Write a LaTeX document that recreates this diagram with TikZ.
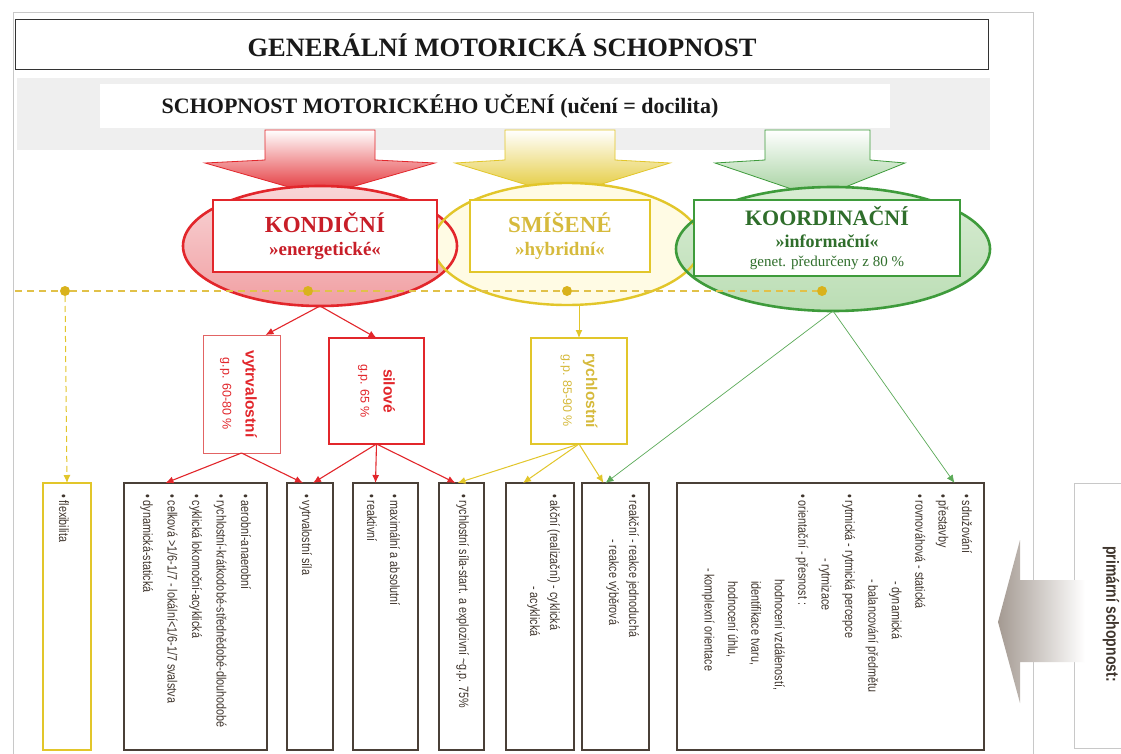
\documentclass[tikz,border=0pt]{standalone}
\usepackage{fontspec}
\usepackage{graphicx}
\setmainfont{Liberation Serif}
\newfontfamily\narrowsans[FakeStretch=0.8]{Liberation Sans}
\newfontfamily\plainsans{Liberation Sans}
\usetikzlibrary{shapes.geometric,arrows.meta}

\definecolor{kred}{HTML}{E2262B}
\definecolor{kdred}{HTML}{C81E28}
\definecolor{kredfill}{HTML}{F3B4B7}
\definecolor{kpink}{HTML}{E26464}
\definecolor{kyel}{HTML}{E2C62A}
\definecolor{kyeltext}{HTML}{D6BA3C}
\definecolor{kyelfill}{HTML}{FFFBE4}
\definecolor{kgrn}{HTML}{3E9B3B}
\definecolor{kdgrn}{HTML}{2F6E2B}
\definecolor{kgrnfill}{HTML}{C9E5C2}
\definecolor{kgold}{HTML}{D9B21C}
\definecolor{kbrown}{HTML}{4A4038}
\definecolor{ktext}{HTML}{40362E}
\definecolor{kband}{HTML}{EFEFEF}
\definecolor{kframe}{HTML}{C8C8C8}
\definecolor{kstone}{HTML}{A49A92}

\begin{document}
\begin{tikzpicture}[x=1pt,y=-1pt,
  every node/.style={inner sep=0pt, outer sep=0pt},
  redline/.style={draw=kred, line width=1.1pt, -{Latex[length=8pt,width=7pt]}},
  yelline/.style={draw=kyel, line width=1pt, -{Latex[length=8pt,width=7pt]}},
  grnline/.style={draw=kgrn!85, line width=0.7pt, -{Latex[length=8pt,width=7pt]}},
  lowbox/.style={draw=kbrown, line width=1.5pt, minimum height=267pt, fill=white},
  lowtext/.style={rotate=-90, anchor=north west, align=left, text=ktext,
    font=\narrowsans\fontsize{13.5}{#1}\selectfont},
  lowtext/.default=23,
  midtext/.style={rotate=-90, align=center, font=\plainsans\fontsize{12.5}{23}\selectfont},
  dot/.style={circle, fill=kgold, minimum size=10pt},
  oval/.style={ellipse, minimum height=120pt},
  bigarrow/.style={line width=0.8pt},
  groupbox/.style={line width=1.5pt, fill=white, align=center, font=\fontsize{16}{23}\selectfont},
]
\useasboundingbox (0,0) rectangle (1121,754);
\fill[white] (0,0) rectangle (1121,754);

% outer frame
\draw[kframe, line width=0.8pt] (13,12) rectangle (1033,770);

% headline
\node[draw=black!80, line width=1pt, minimum width=973pt, minimum height=50pt,
  text=black!90, font=\bfseries\fontsize{26.5}{28}\selectfont] (gen) at (502,45)
  {GENERÁLNÍ MOTORICKÁ SCHOPNOST};

% grey band with the learning ability
\fill[kband] (17,78) rectangle (990,150);
\fill[white] (100,84) rectangle (890,128);
\node[text=black!90, font=\bfseries\fontsize{22}{24}\selectfont] (learn) at (440,106)
  {SCHOPNOST MOTORICKÉHO UČENÍ (učení = docilita)};

% three broad arrows
\shade[top color=white, bottom color=kred, draw=kred, bigarrow]
  (265,130) -- (375,130) -- (375,160) -- (435,163) -- (320,196) -- (205,163) -- (265,160) -- cycle;
\shade[top color=white, bottom color=kyel, draw=kyel, bigarrow]
  (505,130) -- (615,130) -- (615,160) -- (670,163) -- (563,196) -- (455,163) -- (505,160) -- cycle;
\shade[top color=white, bottom color=kgrnfill!70!kgrn, draw=kgrn, bigarrow]
  (765,130) -- (870,130) -- (870,160) -- (905,163) -- (818,198) -- (715,163) -- (765,160) -- cycle;

% ovals: fills first, outlines on top
\node[oval, top color=kredfill!55!white, bottom color=kredfill!85!kred, minimum width=274pt] (kond) at (320,246) {};
\node[oval, fill=kyelfill, minimum width=268pt, minimum height=122pt] (smis) at (567,244) {};
\node[oval, top color=kgrnfill!70!white, bottom color=kgrnfill!90!kgrn, minimum width=314pt, minimum height=124pt] (koor) at (833,249) {};
\node[oval, draw=kred, line width=2.6pt, minimum width=274pt] at (kond) {};
\node[oval, draw=kyel, line width=2.4pt, minimum width=268pt, minimum height=122pt] at (smis) {};
\node[oval, draw=kgrn, line width=2.6pt, minimum width=314pt, minimum height=124pt] at (koor) {};

% labels of the three groups
\node[groupbox, draw=kred, minimum width=224pt, minimum height=72pt, text=kdred] (kondbox) at (325,236)
  {{\bfseries\fontsize{23}{23}\selectfont KONDIČNÍ}\\
   {\bfseries\fontsize{19}{23}\selectfont »energetické«}};
\node[groupbox, draw=kyel, minimum width=180pt, minimum height=72pt, text=kyeltext] (smisbox) at (560,236)
  {{\bfseries\fontsize{23}{23}\selectfont SMÍŠENÉ}\\
   {\bfseries\fontsize{19}{23}\selectfont »hybridní«}};
\node[groupbox, draw=kgrn, minimum width=266pt, minimum height=76pt, text=kdgrn,
  font=\fontsize{15}{19}\selectfont] (koorbox) at (827,238)
  {{\bfseries\fontsize{22}{22}\selectfont KOORDINAČNÍ}\\[3pt]
   {\bfseries\fontsize{18}{19}\selectfont »informační«}\\
   {\fontsize{15}{19}\selectfont genet. předurčeny z 80 \%}};

% dashed line with dots
\coordinate (dstart) at (15,291);
\node[dot] (d1) at (65,291) {};
\node[dot] (d2) at (308,291) {};
\node[dot] (d3) at (567,291) {};
\node[dot] (d4) at (822,291) {};
\draw[kgold!80, line width=1.3pt, dashed, dash pattern=on 7pt off 5pt]
  (dstart) -- (d1) -- (d2) -- (d3) -- (d4);

% second level boxes
\node[draw=kpink, line width=1pt, fill=white, minimum width=77pt, minimum height=118pt] (vytr) at (241.5,394) {};
\node[midtext, text=kred] at (238.5,394) {{\plainsans\bfseries\fontsize{15.5}{18}\selectfont vytrvalostní}\\ g.p. 60-80 \%};
\node[draw=kred, line width=1.3pt, fill=white, minimum width=95pt, minimum height=106pt] (silo) at (376.5,391) {};
\node[midtext, text=kred] at (silo) {{\plainsans\bfseries\fontsize{15.5}{18}\selectfont silové}\\ g.p. 65 \%};
\node[draw=kyel, line width=1.2pt, fill=white, minimum width=96pt, minimum height=106pt] (rych) at (579,391) {};
\node[midtext, text=kyeltext] at (rych) {{\plainsans\bfseries\fontsize{15.5}{18}\selectfont rychlostní}\\ g.p. 85-90 \%};

% bottom boxes
\node[lowbox, draw=kyel, minimum width=48pt] (flex) at (67,616.5) {};
\node[lowbox, minimum width=143pt] (b2) at (195.5,616.5) {};
\node[lowbox, minimum width=46pt] (b3) at (310,616.5) {};
\node[lowbox, minimum width=65pt] (b4) at (385.5,616.5) {};
\node[lowbox, minimum width=45pt] (b5) at (461.5,616.5) {};
\node[lowbox, minimum width=68pt] (b6) at (540,616.5) {};
\node[lowbox, minimum width=67pt] (b7) at (615.5,616.5) {};
\node[lowbox, minimum width=307pt] (b8) at (830.5,616.5) {};

\node[lowtext] at (69,494) {• flexibilita};
\node[lowtext=24.5] at (251,494) {• aerobní-anaerobní\\
  • rychlostní-krátkodobé-střednědobé-dlouhodobé\\
  • cyklická lokomoční-acyklická\\
  • celková >1/6-1/7 - lokální<1/6-1/7 svalstva\\
  • dynamická-statická};
\node[lowtext] at (312,494) {• vytrvalostní síla};
\node[lowtext] at (400,494) {• maximální a absolutní\\ • reaktivní};
\node[lowtext] at (469,494) {• rychlostní síla-start. a explozivní \textasciitilde g.p. 75\%};
\node[lowtext=20] at (560,494) {• akční (realizační) - cyklická\\
  \phantom{• akční (realizační) }- acyklická};
\node[lowtext=20] at (639,494) {• reakční - reakce jednoduchá\\
  \phantom{• reakční }- reakce výběrová};
\node[lowtext=23.4] at (972,494) {• sdružování\\
  • přestavby\\
  • rovnováhová - statická\\
  \hspace*{87pt}- dynamická\\
  \hspace*{85pt}- balancování předmětu\\
  • rytmická - rytmická percepce\\
  \hspace*{64pt}- rytmizace\\
  • orientační - přesnost :\\
  \hspace*{85pt}hodnocení vzdáleností,\\
  \hspace*{87pt}identifikace tvaru,\\
  \hspace*{87pt}hodnocení úhlu,\\
  \hspace*{74pt}- komplexní orientace};

% primary ability on the right
\node[draw=kframe, line width=1pt, fill=white, minimum width=60pt, minimum height=265pt] (prim) at (1104,616) {};
\node[rotate=-90, text=ktext, font=\narrowsans\bfseries\fontsize{17.5}{20}\selectfont] (primtxt) at (1111,614) {primární schopnost:};
\shade[left color=kstone, right color=white, draw=none]
  (1085,580) -- (1020,580) -- (1020,540) -- (998,622) -- (1020,703) -- (1020,662) -- (1085,662) -- cycle;

% connectors
\draw[redline] (kond.south) -- ([xshift=24pt]vytr.north);
\draw[redline] (kond.south) -- (silo.north);
\draw[yelline] (smis.south -| rych.north) -- (rych.north);
\draw[grnline] (koor.south) -- ([xshift=-10pt]b7.north);
\draw[grnline] (koor.south) -- ([xshift=124pt]b8.north);

\draw[redline] (vytr.south) -- ([xshift=-30pt]b2.north);
\draw[redline] (vytr.south) -- ([xshift=-7pt]b3.north);
\draw[redline] (silo.south) -- ([xshift=3pt]b3.north);
\draw[redline] (silo.south) -- ([xshift=-10pt]b4.north);
\draw[redline] (silo.south) -- ([xshift=-6pt]b5.north);
\draw[yelline] (rych.south) -- ([xshift=-4pt]b5.north);
\draw[yelline] (rych.south) -- ([xshift=-17pt]b6.north);
\draw[yelline] (rych.south) -- ([xshift=-12pt]b7.north);

\draw[yelline, dashed, dash pattern=on 6pt off 4pt] (d1) -- (flex.north);
\end{tikzpicture}
\end{document}
